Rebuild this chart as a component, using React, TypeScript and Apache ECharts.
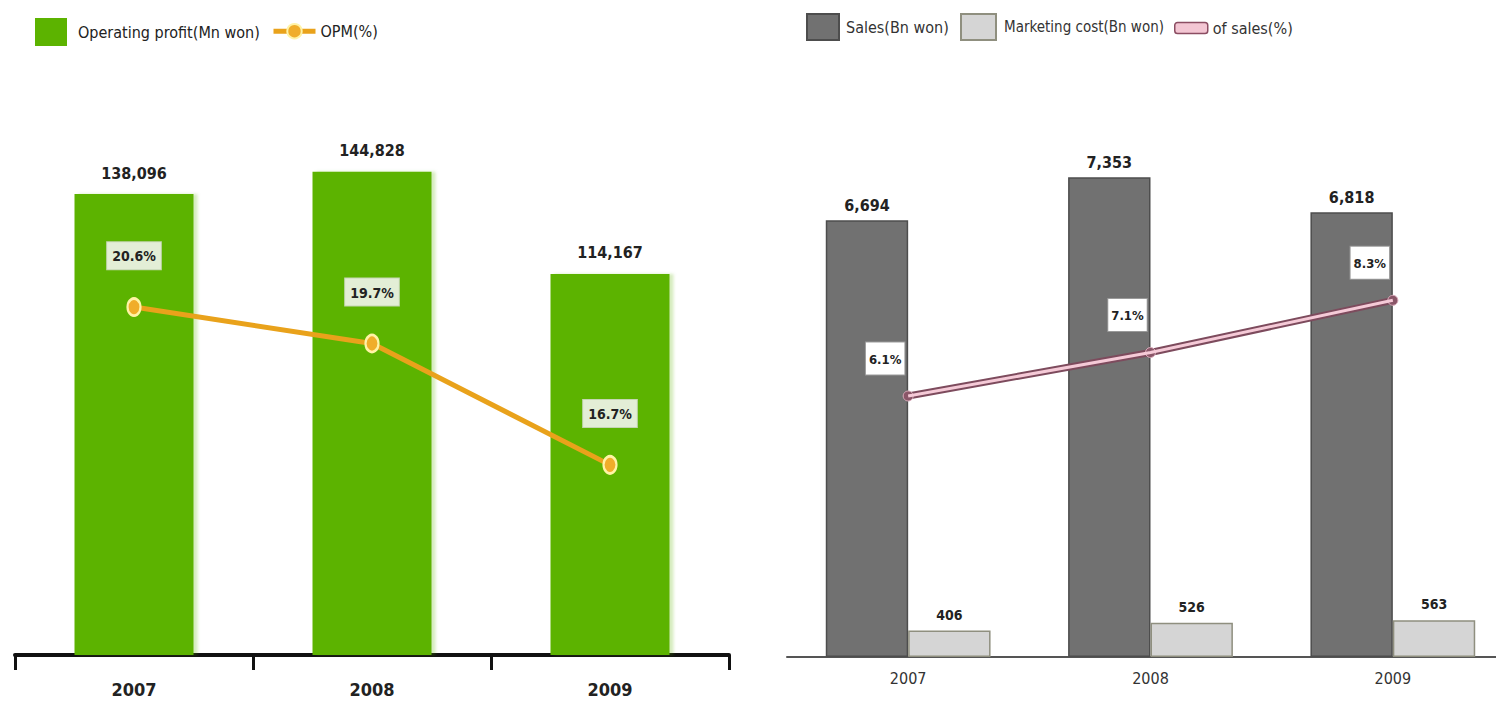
import React, { useEffect, useRef } from "react";
import * as echarts from "echarts";

// Left panel: operating profit and operating margin
const years = ["2007", "2008", "2009"];
const operatingProfit = [138096, 144828, 114167];
const opm = [20.6, 19.7, 16.7];

// Right panel: sales, marketing cost and its share of sales
const sales = [6694, 7353, 6818];
const marketingCost = [406, 526, 563];
const marketingShare = [6.1, 7.1, 8.3];

const FONT = "'Liberation Sans Narrow', 'DejaVu Sans Condensed', 'Arial Narrow', sans-serif";

const fmtThousands = (v: number) => v.toLocaleString("en-US");

export default function App() {
  const ref = useRef<HTMLDivElement>(null);

  useEffect(() => {
    if (!ref.current) return;
    const chart = echarts.init(ref.current, undefined, { renderer: "svg" });

    const option: any = {
      animation: false,
      backgroundColor: "#ffffff",
      textStyle: { fontFamily: FONT },
      legend: [
        {
          left: 30,
          top: 13,
          itemWidth: 32,
          itemHeight: 28,
          data: [{ name: "Operating profit(Mn won)", icon: "rect" }],
          textStyle: { fontSize: 16, color: "#222", fontFamily: FONT, padding: [0, 0, 0, 6] },
        },
        {
          left: 266,
          top: 18,
          itemWidth: 42,
          itemHeight: 18,
          data: [
            {
              name: "OPM(%)",
              lineStyle: { width: 5, color: "#e9a21b" },
            },
          ],
          textStyle: { fontSize: 16, color: "#222", fontFamily: FONT },
        },
        {
          left: 801,
          top: 8,
          itemWidth: 32,
          itemHeight: 26,
          data: [{ name: "Sales(Bn won)", icon: "rect" }],
          textStyle: { fontSize: 16, color: "#333", fontFamily: FONT, padding: [0, 0, 0, 2] },
        },
        {
          left: 955,
          top: 8,
          itemWidth: 35,
          itemHeight: 26,
          data: [{ name: "Marketing cost(Bn won)", icon: "rect" }],
          textStyle: { fontSize: 15, color: "#333", fontFamily: FONT, padding: [0, 0, 0, 3] },
        },
        {
          left: 1169,
          top: 15,
          itemWidth: 33,
          itemHeight: 11,
          data: [
            {
              name: "of sales(%)",
              icon: "roundRect",
              itemStyle: { color: "#f3c6d3", borderColor: "#8b4d62", borderWidth: 1.5 },
            },
          ],
          textStyle: { fontSize: 16, color: "#333", fontFamily: FONT },
        },
      ],
      grid: [
        { left: 15, top: 121, width: 714, height: 534 },
        { left: 787, top: 135, width: 727, height: 522 },
      ],
      xAxis: [
        {
          type: "category",
          gridIndex: 0,
          data: years,
          axisLine: { lineStyle: { color: "#111", width: 4 } },
          axisTick: { show: true, length: 15, lineStyle: { color: "#111", width: 3 } },
          axisLabel: { fontSize: 18, fontWeight: "bold", color: "#222", margin: 25, fontFamily: FONT },
        },
        {
          type: "category",
          gridIndex: 1,
          data: years,
          axisLine: { lineStyle: { color: "#555", width: 2 } },
          axisTick: { show: false },
          axisLabel: { fontSize: 16, color: "#333", margin: 13, fontFamily: FONT },
        },
      ],
      yAxis: [
        { type: "value", gridIndex: 0, min: 0, max: 160000, show: false, splitLine: { show: false } },
        { type: "value", gridIndex: 0, min: 12, max: 25.2, show: false, splitLine: { show: false } },
        { type: "value", gridIndex: 1, min: 0, max: 8000, show: false, splitLine: { show: false } },
        { type: "value", gridIndex: 1, min: 0.1, max: 12.1, show: false, splitLine: { show: false } },
      ],
      series: [
        {
          name: "Operating profit(Mn won)",
          type: "bar",
          xAxisIndex: 0,
          yAxisIndex: 0,
          data: operatingProfit,
          barWidth: "50%",
          itemStyle: {
            color: "#5cb300",
            shadowColor: "rgba(92,179,0,0.25)",
            shadowOffsetX: 4,
            shadowBlur: 3,
          },
          label: {
            show: true,
            position: "top",
            distance: 13,
            fontSize: 16,
            fontWeight: "bold",
            color: "#222",
            fontFamily: FONT,
            formatter: (p: any) => fmtThousands(p.value),
          },
          z: 2,
        },
        {
          name: "OPM(%)",
          type: "line",
          xAxisIndex: 0,
          yAxisIndex: 1,
          data: opm,
          lineStyle: { color: "#e9a21b", width: 5 },
          symbol: "circle",
          symbolSize: [13, 17],
          itemStyle: { color: "#f0ad2a", borderColor: "#fff3a6", borderWidth: 2.5 },
          label: {
            show: true,
            position: "top",
            distance: 28,
            formatter: "{c}%",
            backgroundColor: "#e3eed6",
            borderColor: "#c5d6b3",
            borderWidth: 1,
            padding: [7, 5, 6, 5],
            fontSize: 14,
            fontWeight: "bold",
            color: "#222",
            fontFamily: FONT,
          },
          z: 5,
        },
        {
          name: "Sales(Bn won)",
          type: "bar",
          xAxisIndex: 1,
          yAxisIndex: 2,
          data: sales,
          barCategoryGap: "32%",
          barGap: "0%",
          itemStyle: { color: "#717171", borderColor: "#4d4d4d", borderWidth: 1.5 },
          label: {
            show: true,
            position: "top",
            distance: 7,
            fontSize: 16,
            fontWeight: "bold",
            color: "#222",
            fontFamily: FONT,
            formatter: (p: any) => fmtThousands(p.value),
          },
          z: 2,
        },
        {
          name: "Marketing cost(Bn won)",
          type: "bar",
          xAxisIndex: 1,
          yAxisIndex: 2,
          data: marketingCost,
          barCategoryGap: "32%",
          barGap: "0%",
          itemStyle: { color: "#d5d5d5", borderColor: "#8f8f7f", borderWidth: 1.5 },
          label: {
            show: true,
            position: "top",
            distance: 9,
            fontSize: 14,
            fontWeight: "bold",
            color: "#222",
            fontFamily: FONT,
          },
          z: 2,
        },
        {
          name: "of sales(%)",
          type: "line",
          xAxisIndex: 1,
          yAxisIndex: 3,
          data: marketingShare,
          lineStyle: { color: "#7d4b5d", width: 7 },
          symbol: "circle",
          symbolSize: 10,
          itemStyle: { color: "#8a5668", borderColor: "#d9a9b9", borderWidth: 1 },
          label: {
            show: true,
            position: "top",
            distance: 16,
            offset: [-23, 0],
            formatter: "{c}%",
            backgroundColor: "#ffffff",
            borderColor: "#9a9a9a",
            borderWidth: 1,
            padding: [10, 3, 9, 3],
            fontSize: 13,
            fontWeight: "bold",
            color: "#222",
            fontFamily: FONT,
          },
          z: 5,
        },
        {
          name: "of sales inner",
          type: "line",
          xAxisIndex: 1,
          yAxisIndex: 3,
          data: marketingShare,
          lineStyle: { color: "#f5cad7", width: 3 },
          symbol: "none",
          silent: true,
          z: 6,
        },
      ],
    };

    chart.setOption(option);
    return () => chart.dispose();
  }, []);

  // The canvas runs a little past the right edge of the window so the
  // right-hand category axis keeps its full width.
  return (
    <div
      ref={ref}
      style={{ position: "fixed", left: 0, top: 0, width: 1520, height: 711 }}
    />
  );
}
